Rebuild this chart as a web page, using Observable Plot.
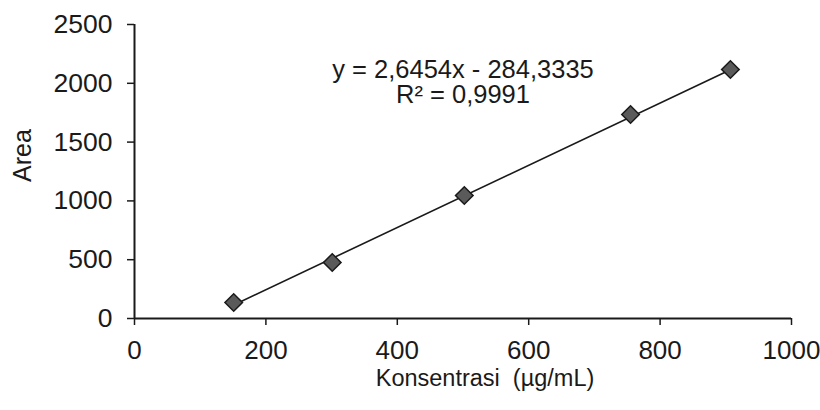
<!DOCTYPE html>
<html><head><meta charset="utf-8">
<script src="https://cdn.jsdelivr.net/npm/d3@7"></script>
<script src="https://cdn.jsdelivr.net/npm/@observablehq/plot@0.6"></script>
<style>body{margin:0;background:#fff;}</style>
</head><body><div id="chart"></div>
<script>
const concentration = [151, 301, 502, 755, 907];
const area = [136, 476, 1046, 1735, 2117];
const xTicks = [0, 200, 400, 600, 800, 1000];
const yTicks = [0, 500, 1000, 1500, 2000, 2500];
const slope = 2.6454;
const intercept = -284.3335;
const equationText = "y = 2,6454x - 284,3335";
const r2Text = "R² = 0,9991";
const xLabel = "Konsentrasi\u00a0 (µg/mL)";
const yLabel = "Area";

const points = concentration.map((x, i) => ({x, y: area[i]}));
const trend = d3.extent(concentration).map(x => ({x, y: slope * x + intercept}));
const ink = "#1a1a1a";
const font = "'Liberation Sans', Arial, sans-serif";

const chart = Plot.plot({
  width: 820, height: 410,
  marginLeft: 134, marginRight: 29, marginTop: 24, marginBottom: 92,
  style: {fontFamily: font, fontSize: "26px", color: ink, background: "#fff"},
  x: {domain: [0, 1000]},
  y: {domain: [0, 2500]},
  marks: [
    Plot.axisX({ticks: xTicks, tickSize: 7, tickPadding: 15, tickFormat: d => String(d), label: null, stroke: ink, strokeWidth: 1.5, fontSize: 26}),
    Plot.axisY({ticks: yTicks, tickSize: 7, tickPadding: 15, tickFormat: d => String(d), label: null, stroke: ink, strokeWidth: 1.5, fontSize: 26.5}),
    Plot.ruleX([0], {stroke: ink, strokeWidth: 2}),
    Plot.ruleY([0], {stroke: ink, strokeWidth: 2}),
    Plot.line(trend, {x: "x", y: "y", stroke: ink, strokeWidth: 1.6}),
    Plot.dot(points, {x: "x", y: "y", symbol: "square", rotate: 45, r: 7, fill: "#5a5a5a", stroke: ink, strokeWidth: 1.5}),
    Plot.text([equationText + "\n" + r2Text], {text: d => d, frameAnchor: "top", dy: 58, textAnchor: "middle", lineAnchor: "middle", lineHeight: 1, fontSize: 25.5, fill: ink}),
    Plot.text([xLabel], {text: d => d, frameAnchor: "bottom", dx: 22, dy: 60, textAnchor: "middle", lineAnchor: "middle", fontSize: 23.5, fill: ink}),
    Plot.text([yLabel], {text: d => d, frameAnchor: "left", rotate: -90, dx: -112, dy: -16, textAnchor: "middle", lineAnchor: "middle", fontSize: 25, fill: ink})
  ]
});
document.getElementById("chart").appendChild(chart);
</script>
</body></html>
